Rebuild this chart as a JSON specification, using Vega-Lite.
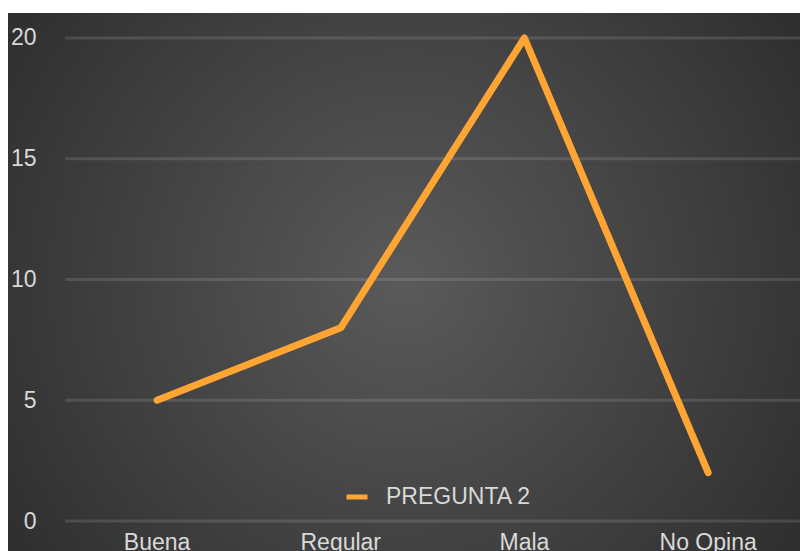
{
  "$schema": "https://vega.github.io/schema/vega-lite/v6.json",
  "width": 792,
  "height": 538,
  "autosize": {"type": "none"},
  "padding": {"left": 8, "top": 13, "right": 0, "bottom": 0},
  "background": "#ffffff",
  "config": {
    "view": {
      "stroke": null,
      "fill": {
        "gradient": "radial",
        "x1": 0.5, "y1": 0.5, "r1": 0,
        "x2": 0.5, "y2": 0.5, "r2": 0.72,
        "stops": [
          {"offset": 0, "color": "#5a5a5a"},
          {"offset": 1, "color": "#262626"}
        ]
      }
    },
    "font": "Liberation Sans",
    "axis": {"labelFont": "Liberation Sans", "labelColor": "#d9d9d9", "labelFontSize": 23, "grid": false, "domain": false, "ticks": false, "title": null}
  },
  "layer": [
    {
      "data": {"values": [{"v": 0}, {"v": 5}, {"v": 10}, {"v": 15}, {"v": 20}]},
      "mark": {"type": "rule", "color": "#ffffff", "opacity": 0.12, "strokeWidth": 3},
      "encoding": {
        "y": {"field": "v", "type": "quantitative"},
        "x": {"datum": "Buena", "type": "nominal", "bandPosition": 0},
        "x2": {"datum": "No Opina", "bandPosition": 1}
      }
    },
    {
      "data": {"values": [
        {"categoria": "Buena", "valor": 5},
        {"categoria": "Regular", "valor": 8},
        {"categoria": "Mala", "valor": 20},
        {"categoria": "No Opina", "valor": 2}
      ]},
      "mark": {"type": "line", "strokeWidth": 7, "strokeCap": "round", "strokeJoin": "round"},
      "encoding": {
        "x": {
          "field": "categoria", "type": "nominal", "sort": null,
          "scale": {"type": "band", "domain": ["Buena", "Regular", "Mala", "No Opina"], "paddingInner": 0, "paddingOuter": 0.1557, "align": 1},
          "axis": {"labelAngle": 0, "labelAlign": "center", "bandPosition": 0.5, "offset": -30, "labelPadding": 10, "labelBaseline": "top"}
        },
        "y": {
          "field": "valor", "type": "quantitative",
          "scale": {"domain": [-1.242, 21.035], "nice": false, "zero": false},
          "axis": {"values": [0, 5, 10, 15, 20], "offset": -28, "labelPadding": 0, "labelAlign": "right", "labelBaseline": "middle"}
        },
        "color": {
          "datum": "PREGUNTA 2",
          "type": "nominal",
          "scale": {"range": ["#ffa533"]},
          "legend": {
            "orient": "none", "legendX": 336, "legendY": 471, "title": null,
            "symbolType": "stroke", "symbolSize": 441, "symbolStrokeWidth": 5,
            "labelFont": "Liberation Sans", "labelFontSize": 23, "labelColor": "#d9d9d9",
            "labelOffset": 16, "labelLimit": 300, "padding": 0
          }
        }
      }
    }
  ]
}
